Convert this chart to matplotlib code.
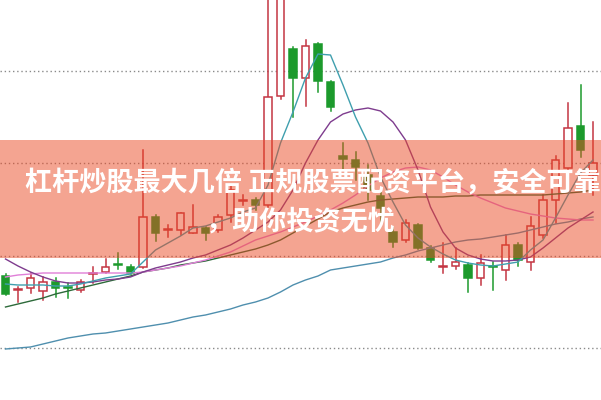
import numpy as np
import matplotlib
matplotlib.use("Agg")
import matplotlib.pyplot as plt
from matplotlib.patches import Rectangle

plt.rcParams['font.family'] = ['Noto Sans CJK SC', 'DejaVu Sans']

# daily candles (price level units)
opens = [124, 110, 112, 109, 118, 113, 110, 126, 128, 136, 133, 133, 183, 170, 170, 167,
         172, 170, 185, 199, 200, 195, 304, 351, 322, 356, 318, 244, 240, 225, 204, 168,
         160, 175, 152, 133, 134, 135, 122, 134, 130, 155, 138, 165, 200, 232, 274, 225]
closes = [106, 111, 122, 118, 112, 112, 118, 127, 133, 135, 127, 183, 167, 171, 187, 173,
          167, 183, 210, 200, 195, 303, 460, 322, 354, 319, 293, 241, 233, 210, 192, 158,
          177, 152, 140, 134, 138, 122, 137, 133, 155, 140, 174, 200, 240, 272, 250, 237]
highs = [126, 113, 127, 123, 122, 117, 120, 133, 141, 147, 135, 250, 185, 175, 187, 195,
         173, 185, 215, 205, 202, 420, 480, 353, 360, 357, 319, 257, 248, 235, 210, 173,
         180, 176, 154, 157, 152, 137, 145, 138, 165, 157, 183, 205, 244, 297, 315, 278]
lows = [105, 98, 107, 100, 103, 102, 108, 117, 127, 131, 126, 132, 159, 163, 165, 167,
        160, 168, 178, 195, 190, 193, 301, 283, 294, 308, 289, 230, 220, 200, 175, 153,
        158, 151, 138, 127, 131, 108, 115, 110, 120, 134, 130, 162, 177, 230, 243, 205]

# moving averages
ma5 = [116, 115, 115, 115, 114, 114, 116, 119, 122, 124, 126, 138, 150, 157, 164, 172,
       174, 178, 182, 188, 192, 215, 257, 288, 322, 346, 345, 315, 283, 257, 223, 198,
       175, 162, 153, 146, 140, 137, 135, 134, 136, 138, 150, 160, 182, 205, 227, 240]
ma10 = [141, 134, 128, 123, 119, 117, 117, 118, 120, 121, 123, 128, 132, 135, 138, 142,
        145, 150, 155, 162, 170, 178, 190, 210, 237, 260, 278, 286, 290, 292, 289, 278,
        260, 230, 193, 168, 152, 145, 141, 139, 139, 140, 143, 152, 162, 172, 180, 188]
ma20 = [123, 125, 126, 127, 127, 127, 127, 127, 127, 127, 127, 128, 130, 132, 134, 137,
        140, 144, 148, 154, 160, 164, 168, 173, 178, 184, 190, 197, 205, 214, 222, 228,
        232, 233, 230, 223, 215, 208, 202, 197, 192, 189, 186, 184, 182, 181, 180, 180]
ma30 = [93, 96, 99, 102, 106, 109, 112, 115, 118, 121, 124, 128, 130, 132, 135, 137,
        139, 142, 145, 148, 151, 155, 160, 167, 174, 181, 188, 192, 195, 198, 200, 201,
        202, 203, 203, 203, 204, 204, 205, 205, 205, 205, 205, 205, 206, 207, 208, 210]
ma60 = [51, 52, 53, 56, 59, 62, 64, 66, 67, 69, 71, 73, 75, 77, 80, 83,
        85, 88, 91, 95, 98, 102, 108, 115, 120, 124, 130, 132, 134, 136, 138, 142,
        145, 149, 152, 155, 158, 160, 161, 163, 165, 167, 170, 173, 176, 178, 181, 183]

grid_levels = [52, 144, 237, 329]

line1 = "杠杆炒股最大几倍 正规股票配资平台，安全可靠"
line2 = "，助你投资无忧"

up_col = '#c33542'
down_col = '#1c9a2c'

fig = plt.figure(figsize=(6.01, 4.0), dpi=100)
ax = fig.add_axes([0, 0, 1, 1])
ax.set_xlim(-0.44, 47.64)
ax.set_ylim(0, 400)
ax.axis('off')

for g in grid_levels:
    ax.axhline(g, color='#8a8a8a', lw=1, linestyle=(0, (1, 2)), zorder=1)

w = 0.62
for i, (o, c, h, l) in enumerate(zip(opens, closes, highs, lows)):
    if c >= o:
        col = up_col
        face = 'white'
    else:
        col = down_col
        face = down_col
    ax.plot([i, i], [l, h], color=col, lw=1.1, zorder=2)
    bottom = min(o, c)
    height = max(abs(c - o), 1)
    ax.add_patch(Rectangle((i - w / 2, bottom), w, height, facecolor=face,
                           edgecolor=col, lw=1.1, zorder=3))

x = np.arange(len(opens))
ax.plot(x, ma60, color='#4f8fae', lw=1, zorder=4)
ax.plot(x, ma30, color='#2d6a3a', lw=1, zorder=4)
ax.plot(x, ma20, color='#e07fd8', lw=1, zorder=4)
ax.plot(x, ma10, color='#7e3c8e', lw=1, zorder=4)
ax.plot(x, ma5, color='#3f9fae', lw=1, zorder=4)

# banner overlay
ax.add_patch(Rectangle((0, 0.355), 1, 0.295, transform=ax.transAxes,
                       facecolor='#eb4a24', alpha=0.5, edgecolor='none', zorder=5))

fig.text(0.52, 0.5425, line1, color='white', fontsize=19.5, fontweight='bold',
         ha='center', va='center', zorder=6)
fig.text(0.5, 0.447, line2, color='white', fontsize=19.5, fontweight='bold',
         ha='center', va='center', zorder=6)

fig.savefig('out.png', dpi=100)
